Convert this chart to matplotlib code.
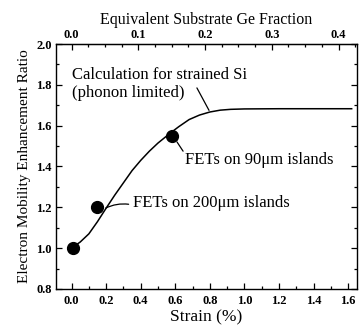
import matplotlib
matplotlib.use('Agg')
import matplotlib.pyplot as plt
import numpy as np
from matplotlib.ticker import MultipleLocator

plt.rcParams['font.family'] = ['Liberation Serif', 'DejaVu Serif']

# calculated enhancement for strained Si (phonon limited)
calc_strain = [0.0, 0.05, 0.1, 0.15, 0.2, 0.25, 0.3, 0.35, 0.4, 0.45, 0.5,
               0.57, 0.62, 0.68, 0.74, 0.8, 0.86, 0.92, 1.0, 1.2, 1.4, 1.62]
calc_ratio = [1.0, 1.03, 1.07, 1.13, 1.196, 1.26, 1.32, 1.38, 1.43, 1.475, 1.515,
              1.563, 1.595, 1.63, 1.652, 1.667, 1.676, 1.68, 1.682, 1.683, 1.683, 1.683]

# measured FETs
fet_strain = [0.01, 0.15, 0.58]
fet_ratio = [1.0, 1.2, 1.55]

ge_ticks = [0.0, 0.1, 0.2, 0.3, 0.4]
STRAIN_PER_GE = 3.86  # strain (%) per unit Ge fraction of the substrate

fig = plt.figure(figsize=(3.59, 3.31), dpi=100)
ax = fig.add_axes([0.156, 0.127, 0.838, 0.74])

ax.plot(calc_strain, calc_ratio, color='black', lw=1.1)
ax.plot(fet_strain, fet_ratio, 'o', color='black', ms=8.5)

ax.set_xlim(-0.09, 1.65)
ax.set_ylim(0.8, 2.0)
ax.xaxis.set_major_locator(MultipleLocator(0.2))
ax.xaxis.set_minor_locator(MultipleLocator(0.1))
ax.yaxis.set_major_locator(MultipleLocator(0.2))
ax.yaxis.set_minor_locator(MultipleLocator(0.1))
ax.tick_params(which='both', direction='in', right=True, labelsize=9, pad=4)
ax.tick_params(axis='y', pad=3)
ax.tick_params(which='major', length=4, width=0.9)
ax.tick_params(which='minor', length=2.5, width=0.9)
for lbl in ax.get_xticklabels() + ax.get_yticklabels():
    lbl.set_fontweight('bold')
for s in ax.spines.values():
    s.set_linewidth(1.0)

ax.set_xlabel('Strain (%)', fontsize=12.5, labelpad=2)
ax.set_ylabel('Electron Mobility Enhancement Ratio', fontsize=11, labelpad=4)

sec = ax.secondary_xaxis('top', functions=(lambda s: s / STRAIN_PER_GE,
                                           lambda g: g * STRAIN_PER_GE))
sec.set_xticks(ge_ticks)
sec.xaxis.set_minor_locator(MultipleLocator(0.025))
sec.tick_params(which='both', direction='in', labelsize=9, pad=2)
sec.tick_params(which='major', length=4, width=0.9)
sec.tick_params(which='minor', length=2.5, width=0.9)
for lbl in sec.get_xticklabels():
    lbl.set_fontweight('bold')
sec.set_xlabel('Equivalent Substrate Ge Fraction', fontsize=11.5, labelpad=4)

# labels and leader lines
ax.text(0.005, 1.848, 'Calculation for strained Si', fontsize=12, ha='left', va='center')
ax.text(0.005, 1.762, '(phonon limited)', fontsize=12, ha='left', va='center')
ax.annotate('', xy=(0.795, 1.675), xytext=(0.725, 1.785),
            arrowprops=dict(arrowstyle='-', color='black', lw=0.9, shrinkA=0, shrinkB=0))

ax.text(0.354, 1.22, 'FETs on 200\u03bcm islands', fontsize=12, ha='left', va='center')
ax.annotate('', xy=(0.197, 1.196), xytext=(0.33, 1.215),
            arrowprops=dict(arrowstyle='-', color='black', lw=0.9, shrinkA=0, shrinkB=0,
                            connectionstyle='arc3,rad=0.15'))

ax.text(0.655, 1.43, 'FETs on 90\u03bcm islands', fontsize=12, ha='left', va='center')
ax.annotate('', xy=(0.61, 1.52), xytext=(0.645, 1.475),
            arrowprops=dict(arrowstyle='-', color='black', lw=0.9, shrinkA=0, shrinkB=0))

fig.savefig('out.png', dpi=100)
